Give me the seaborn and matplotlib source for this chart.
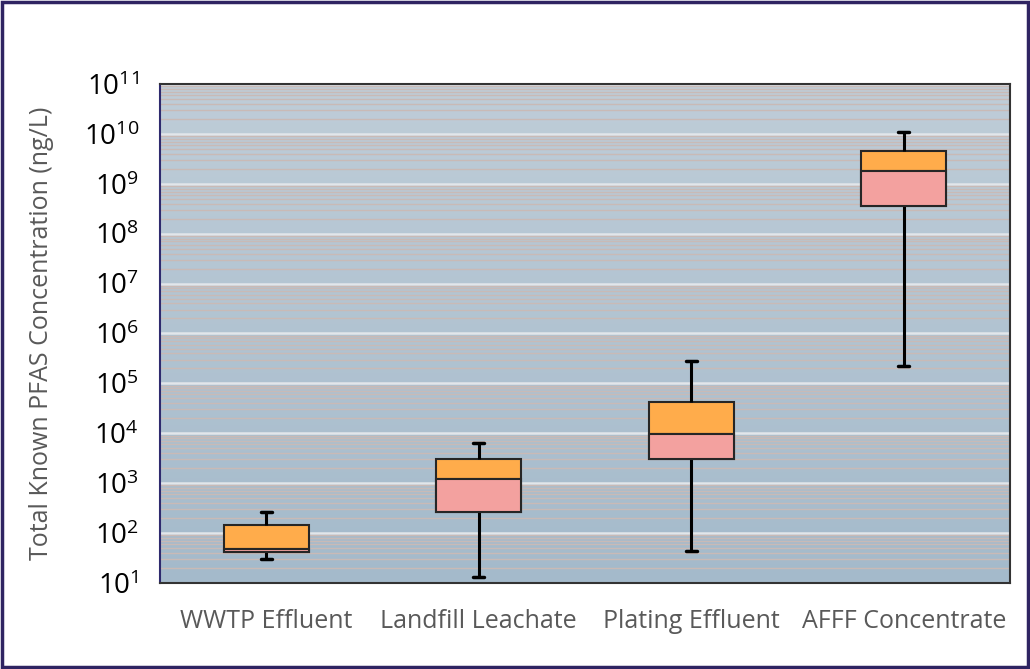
import numpy as np
import pandas as pd
import matplotlib
matplotlib.use("Agg")
import matplotlib.pyplot as plt
from matplotlib.patches import Rectangle
from matplotlib.ticker import LogLocator, FixedLocator, NullFormatter
import seaborn as sns

# values (ng/L)
categories = ["WWTP Effluent", "Landfill Leachate", "Plating Effluent", "AFFF Concentrate"]
mins = [30, 13, 44, 2.2e5]
q1 = [41, 270, 3100, 3.6e8]
medians = [48, 1200, 9700, 1.8e9]
q3 = [143, 3050, 42000, 4.6e9]
maxs = [260, 6400, 2.85e5, 1.1e10]

upper_color = "#FFAC4B"
lower_color = "#F3A19F"

sns.set_style("white")
plt.rcParams["font.family"] = ["Open Sans", "DejaVu Sans"]
plt.rcParams["mathtext.fontset"] = "custom"
plt.rcParams["mathtext.rm"] = "Open Sans"

# five numbers per category -> quartiles land exactly on the given values
rows = []
for cat, a, b, c, d, e in zip(categories, mins, q1, medians, q3, maxs):
    for v in (a, b, c, d, e):
        rows.append({"category": cat, "value": v})
df = pd.DataFrame(rows)

fig = plt.figure(figsize=(10.30, 6.69), dpi=100)
ax = fig.add_axes([0.1553, 0.1286, 0.8253, 0.7458])

# soft vertical gradient behind the plot
grad = np.linspace(0, 1, 256).reshape(-1, 1)
cmap = matplotlib.colors.LinearSegmentedColormap.from_list("bg", ["#bfcdd8", "#a4bacb"])
ax.imshow(grad, extent=[0, 1, 0, 1], transform=ax.transAxes, aspect="auto",
          cmap=cmap, zorder=0)

sns.boxplot(data=df, x="category", y="value", order=categories, ax=ax,
            log_scale=True, whis=(0, 100), width=0.4, color=upper_color,
            saturation=1, linecolor="#262626", linewidth=1.5,
            whiskerprops=dict(color="black", linewidth=2.2),
            capprops=dict(color="black", linewidth=2.5),
            medianprops=dict(color="#262626", linewidth=1.5),
            capwidths=0.05, zorder=3)

# lower half of each box (Q1 -> median) in pink
for i in range(len(categories)):
    ax.add_patch(Rectangle((i - 0.2, q1[i]), 0.4, medians[i] - q1[i],
                           facecolor=lower_color, edgecolor="#262626",
                           linewidth=1.5, zorder=4))

ax.set_xlim(-0.5, len(categories) - 0.5)
ax.set_ylim(10, 1e11)

ax.yaxis.set_major_locator(LogLocator(base=10, numticks=20))
ax.yaxis.set_minor_locator(LogLocator(base=10, subs=np.arange(2, 10), numticks=200))
ax.yaxis.set_minor_formatter(NullFormatter())
ax.grid(which="minor", axis="y", color="#c9bab6", linewidth=1.0, zorder=1)
ax.grid(which="major", axis="y", color="#e2e6ea", linewidth=1.8, zorder=1)
ax.set_axisbelow(True)

navy = "#2e2a6e"
ax.tick_params(axis="y", which="major", direction="out", length=6, width=1.5,
               color=navy, labelsize=20, labelcolor="black", pad=9)
ax.tick_params(axis="y", which="minor", direction="in", length=5, width=1.0,
               color=navy)
ax.xaxis.set_minor_locator(FixedLocator(np.arange(-0.5, len(categories), 1.0)))
ax.tick_params(axis="x", which="major", length=0, labelsize=18,
               labelcolor="#595959", pad=19)
ax.tick_params(axis="x", which="minor", direction="out", length=8, width=1.5,
               color="#333333")

for side in ["top", "right", "bottom"]:
    ax.spines[side].set_color("#333333")
    ax.spines[side].set_linewidth(1.5)
ax.spines["left"].set_color(navy)
ax.spines["left"].set_linewidth(1.5)

ax.set_xlabel("")
ax.set_ylabel("Total Known PFAS Concentration (ng/L)", fontsize=18, color="#595959")
ax.yaxis.set_label_coords(-0.125, 0.5)

fig.patches.append(Rectangle((0.002, 0.003), 0.996, 0.994, transform=fig.transFigure,
                             fill=False, edgecolor="#2f2462", linewidth=2.5))

fig.savefig("out.png", dpi=100)
